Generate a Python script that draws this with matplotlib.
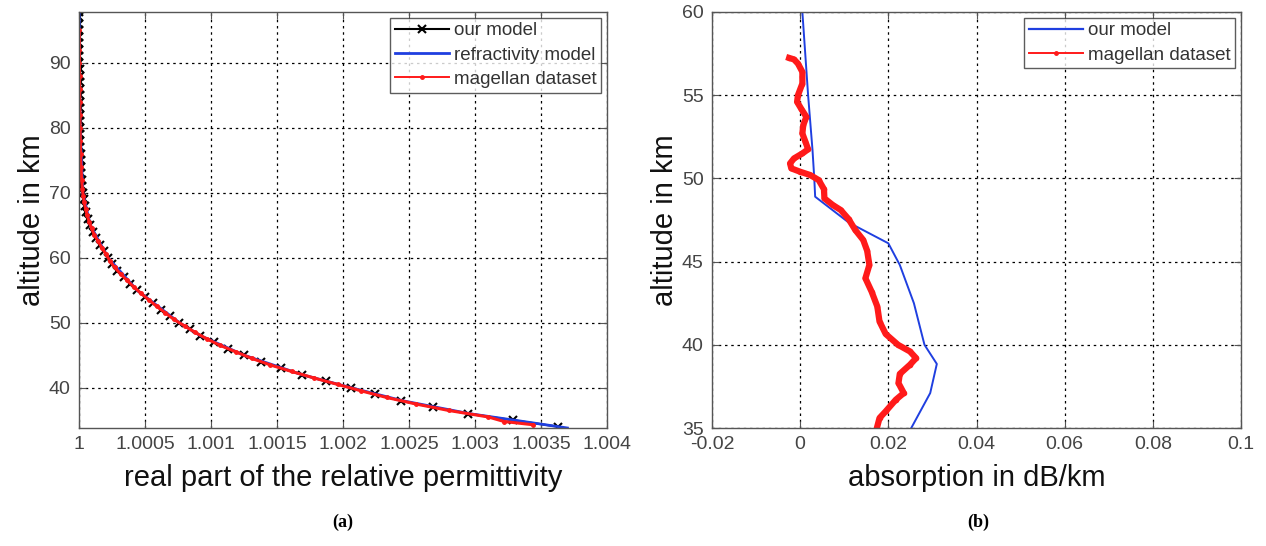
import numpy as np
import matplotlib
matplotlib.use("Agg")
import matplotlib.pyplot as plt
from matplotlib.lines import Line2D

plt.rcParams["font.family"] = ["Liberation Sans", "DejaVu Sans"]

# ---- panel (a): real part of relative permittivity (stored as (eps-1)*1e4) ----
model_alt = [34, 35, 36, 37, 38, 39, 40, 41, 42, 43, 44, 45, 46, 47, 48, 49,
             50, 51, 52, 53, 54, 55, 56, 57, 58, 59, 60, 61, 62, 63, 64, 65,
             66, 67, 68, 69, 70, 71, 72, 73, 74, 75, 76, 77, 78, 79, 80, 81,
             82, 83, 84, 85, 86, 87, 88, 89, 90, 91, 92, 93, 94, 95, 96, 97, 97.8]
model_eps = [36.3, 32.9, 29.5, 26.8, 24.4, 22.4, 20.6, 18.7, 16.9, 15.3, 13.8,
             12.5, 11.3, 10.2, 9.2, 8.4, 7.6, 6.9, 6.2, 5.6, 5.0, 4.4, 3.9, 3.4,
             2.9, 2.5, 2.2, 1.9, 1.6, 1.3, 1.05, 0.85, 0.7, 0.56, 0.45, 0.36,
             0.29, 0.24, 0.2, 0.17, 0.15, 0.13, 0.12, 0.11, 0.1, 0.09, 0.08,
             0.075, 0.07, 0.065, 0.06, 0.055, 0.05, 0.045, 0.04, 0.038, 0.035,
             0.032, 0.03, 0.028, 0.026, 0.024, 0.022, 0.02, 0.018]

refr_alt = [33.8, 35, 36, 38, 40, 42, 45, 48, 50, 55, 60, 65, 70, 80, 90, 97.8]
refr_eps = [37.0, 33.0, 29.6, 24.5, 20.6, 16.9, 12.5, 9.2, 7.6, 4.4, 2.2,
            0.85, 0.29, 0.08, 0.035, 0.018]

mag_alt = [34.3, 34.8, 35.5, 36.5, 37.5, 38.5, 39.5, 40.5, 41.5, 42.5, 43.5,
           44.5, 45.5, 46.5, 47.5, 48.5, 49.5, 50.5, 51.5, 52.5, 53.5, 54.5,
           55.5, 56.5, 57.5, 58.5, 59.5, 60.5, 61.5, 62.5, 63.5, 64.5, 65.5,
           66.5, 67.5, 68.5, 69.5, 70.5, 72, 74, 76, 78, 80, 82, 84, 86, 88,
           90, 92, 95]
mag_eps = [34.4, 32.2, 31.0, 28.0, 25.5, 23.3, 21.4, 19.6, 17.8, 16.1, 14.5,
           13.1, 11.9, 10.7, 9.7, 8.8, 8.0, 7.2, 6.55, 5.9, 5.3, 4.7, 4.15,
           3.65, 3.15, 2.7, 2.35, 2.05, 1.75, 1.45, 1.17, 0.95, 0.78, 0.62,
           0.5, 0.4, 0.32, 0.26, 0.2, 0.15, 0.12, 0.1, 0.08, 0.07, 0.06, 0.05,
           0.04, 0.035, 0.03, 0.025]

eps_ticks = [1, 1.0005, 1.001, 1.0015, 1.002, 1.0025, 1.003, 1.0035, 1.004]
eps_ticklabels = ["1", "1.0005", "1.001", "1.0015", "1.002", "1.0025",
                  "1.003", "1.0035", "1.004"]
alt_ticks_a = [40, 50, 60, 70, 80, 90]

# ---- panel (b): absorption in dB/km ----
abs_model_alt = [60, 55, 51.7, 50, 48.9, 47.35, 46.1, 44.8, 42.5, 40, 38.85,
                 37.1, 35]
abs_model = [0.0005, 0.0018, 0.0028, 0.0032, 0.0034, 0.011, 0.020, 0.0226,
             0.0258, 0.0282, 0.031, 0.0295, 0.0252]

abs_mag_alt = [57.24, 57.15, 56.9, 56.4, 55.7, 55.0, 54.6, 54.2, 53.7, 53.2,
               52.7, 52.2, 51.75, 51.5, 51.2, 50.9, 50.6, 50.4, 50.2, 49.9,
               49.35, 48.8, 48.4, 48.1, 47.55, 46.9, 46.3, 45.65, 44.8, 44.0,
               43.2, 42.3, 41.4, 40.65, 40.0, 39.6, 39.2, 38.8, 38.25, 37.7,
               37.1, 36.7, 36.0, 35.6, 35.0]
abs_mag = [-0.0025, -0.0014, -0.0005, 0.0005, 0.0005, -0.0005, -0.0007,
           0.0002, 0.0014, 0.0007, 0.0005, 0.0012, 0.0018, 0.0005, -0.0014,
           -0.0023, -0.002, 0.0, 0.0023, 0.0042, 0.0054, 0.0055, 0.0074,
           0.0092, 0.011, 0.0125, 0.0143, 0.0152, 0.0157, 0.0148, 0.0162,
           0.0175, 0.018, 0.0194, 0.0222, 0.0249, 0.0263, 0.0249, 0.0226,
           0.0223, 0.0235, 0.0217, 0.0194, 0.018, 0.0174]

abs_ticks = [-0.02, 0, 0.02, 0.04, 0.06, 0.08, 0.1]
abs_ticklabels = ["-0.02", "0", "0.02", "0.04", "0.06", "0.08", "0.1"]
alt_ticks_b = [35, 40, 45, 50, 55, 60]

W, H = 1266, 546
fig = plt.figure(figsize=(W / 100, H / 100), dpi=100)
ax1 = fig.add_axes([79 / W, 118 / H, 528 / W, 416 / H])
ax2 = fig.add_axes([712 / W, 118 / H, 529 / W, 416 / H])


def to_eps(vals):
    return 1 + np.asarray(vals) * 1e-4


def style_axes(ax):
    ax.grid(True, color="black", linestyle=(0, (2, 3)), linewidth=0.9)
    ax.set_axisbelow(True)
    ax.tick_params(direction="in", top=True, right=True, length=5,
                   color="#555555", labelcolor="#444444", labelsize=14, pad=6)
    for sp in ax.spines.values():
        sp.set_color("#555555")
        sp.set_linewidth(1.0)


def make_legend(ax, handles, labels):
    leg = ax.legend(handles, labels, loc="upper right", fontsize=13.5,
                    frameon=True, fancybox=False, edgecolor="#333333",
                    borderpad=0.25, labelspacing=0.38, handlelength=2.9,
                    handletextpad=0.25, borderaxespad=0.3)
    leg.get_frame().set_linewidth(1.0)
    for t in leg.get_texts():
        t.set_color("#333333")
    return leg


ax1.plot(to_eps(model_eps), model_alt, color="black", lw=1.5, marker="x",
         ms=6, mew=1.5)
ax1.plot(to_eps(refr_eps), refr_alt, color="#1f3fe0", lw=2)
ax1.plot(to_eps(mag_eps), mag_alt, color="#ff1a1a", lw=2.2, marker=".", ms=5)
ax1.set_xlim(1, 1.004)
ax1.set_ylim(33.8, 97.8)
ax1.set_xticks(eps_ticks)
ax1.set_xticklabels(eps_ticklabels)
ax1.set_yticks(alt_ticks_a)
style_axes(ax1)
ax1.set_xlabel("real part of the relative permittivity", fontsize=21, labelpad=8,
               color="#111111")
ax1.set_ylabel("altitude in km", fontsize=21, labelpad=2, color="#111111")
make_legend(ax1,
            [Line2D([], [], color="black", lw=1.5, marker="x", ms=6, mew=1.5),
             Line2D([], [], color="#1f3fe0", lw=2),
             Line2D([], [], color="#ff1a1a", lw=1.4, marker=".", ms=5)],
            ["our model", "refractivity model", "magellan dataset"])

ax2.plot(abs_model, abs_model_alt, color="#1f3fe0", lw=1.4)
ax2.plot(abs_mag, abs_mag_alt, color="#ff1a1a", lw=4.5, marker=".", ms=6,
         solid_joinstyle="round")
ax2.set_xlim(-0.02, 0.1)
ax2.set_ylim(35, 60)
ax2.set_xticks(abs_ticks)
ax2.set_xticklabels(abs_ticklabels)
ax2.set_yticks(alt_ticks_b)
style_axes(ax2)
ax2.set_xlabel("absorption in dB/km", fontsize=21, labelpad=8, color="#111111")
ax2.set_ylabel("altitude in km", fontsize=21, labelpad=2, color="#111111")
make_legend(ax2,
            [Line2D([], [], color="#1f3fe0", lw=1.6),
             Line2D([], [], color="#ff1a1a", lw=1.4, marker=".", ms=5)],
            ["our model", "magellan dataset"])

fig.text(343 / W, 1 - 522 / H, "(a)", fontsize=13, fontweight="bold",
         family="Liberation Serif", ha="center", va="center")
fig.text(978 / W, 1 - 522 / H, "(b)", fontsize=13, fontweight="bold",
         family="Liberation Serif", ha="center", va="center")

fig.savefig("out.png", dpi=100)
